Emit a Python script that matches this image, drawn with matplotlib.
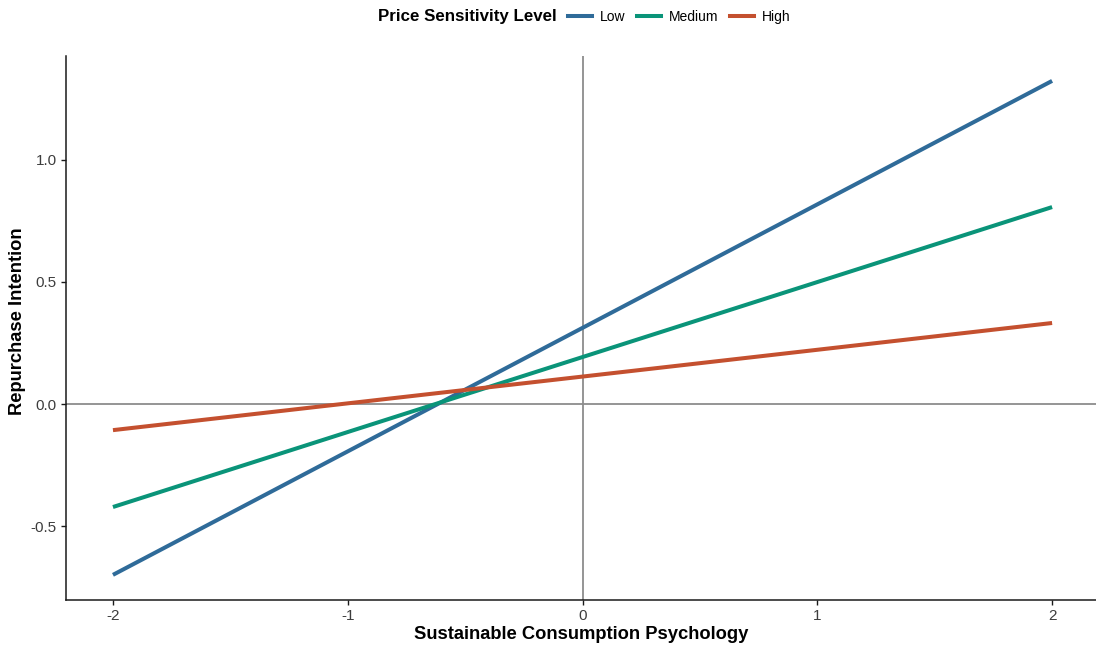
import numpy as np
import matplotlib
matplotlib.use('Agg')
import matplotlib.pyplot as plt
from matplotlib.lines import Line2D

plt.rcParams['font.family'] = ['Liberation Sans', 'DejaVu Sans']

# Simple slopes of repurchase intention at x = -2 and x = 2
x_ends = [-2, 2]
levels = ['Low', 'Medium', 'High']
y_low = [-0.70, 1.324]
y_medium = [-0.422, 0.807]
y_high = [-0.107, 0.332]
colors = ['#2F6B99', '#0A9479', '#C4502F']

x_ticks = [-2, -1, 0, 1, 2]
y_ticks = [-0.5, 0.0, 0.5, 1.0]
y_ticklabels = ['-0.5', '0.0', '0.5', '1.0']

fig = plt.figure(figsize=(10.96, 6.48), dpi=100)
ax = fig.add_axes([66 / 1096, 48 / 648, 1 - 66 / 1096, (600 - 56) / 648])

# reference lines at zero
ax.axhline(0, color='#8c8c8c', lw=1.3, zorder=1)
ax.axvline(0, color='#8c8c8c', lw=1.3, zorder=1)

for lvl, ys, c in zip(levels, [y_low, y_medium, y_high], colors):
    ax.plot(x_ends, ys, color=c, lw=2.9, solid_capstyle='butt', label=lvl, zorder=2)

ax.set_xlim(-2.2, 2.187)
ax.set_ylim(-0.803, 1.426)
ax.set_xticks(x_ticks)
ax.set_xticklabels([str(t) for t in x_ticks])
ax.set_yticks(y_ticks)
ax.set_yticklabels(y_ticklabels)
ax.tick_params(labelsize=11, colors='#1a1a1a', length=3.5, width=1, pad=3)
ax.tick_params(axis='both', labelcolor='#3d3d3d')

for side in ['top', 'right']:
    ax.spines[side].set_visible(False)
for side in ['left', 'bottom']:
    ax.spines[side].set_linewidth(1.1)
    ax.spines[side].set_color('#1a1a1a')

ax.set_xlabel('Sustainable Consumption Psychology', fontsize=13.2, fontweight='bold', labelpad=2)
ax.set_ylabel('Repurchase Intention', fontsize=13.2, fontweight='bold')
ax.yaxis.set_label_coords(26 / 1096, 0.505, transform=fig.transFigure)

# legend on top, title inline
fig.text(557 / 1096, 1 - 17 / 648, 'Price Sensitivity Level', ha='right', va='center',
         fontsize=12.2, fontweight='bold')
handles = [Line2D([0], [0], color=c, lw=2.9) for c in colors]
fig.legend(handles, levels, loc='center left', bbox_to_anchor=(568 / 1096, 1 - 17 / 648),
           ncol=3, frameon=False, fontsize=10, handlelength=1.75, handletextpad=0.58,
           columnspacing=0.8, borderpad=0, borderaxespad=0)

fig.savefig('out.png', dpi=100)
